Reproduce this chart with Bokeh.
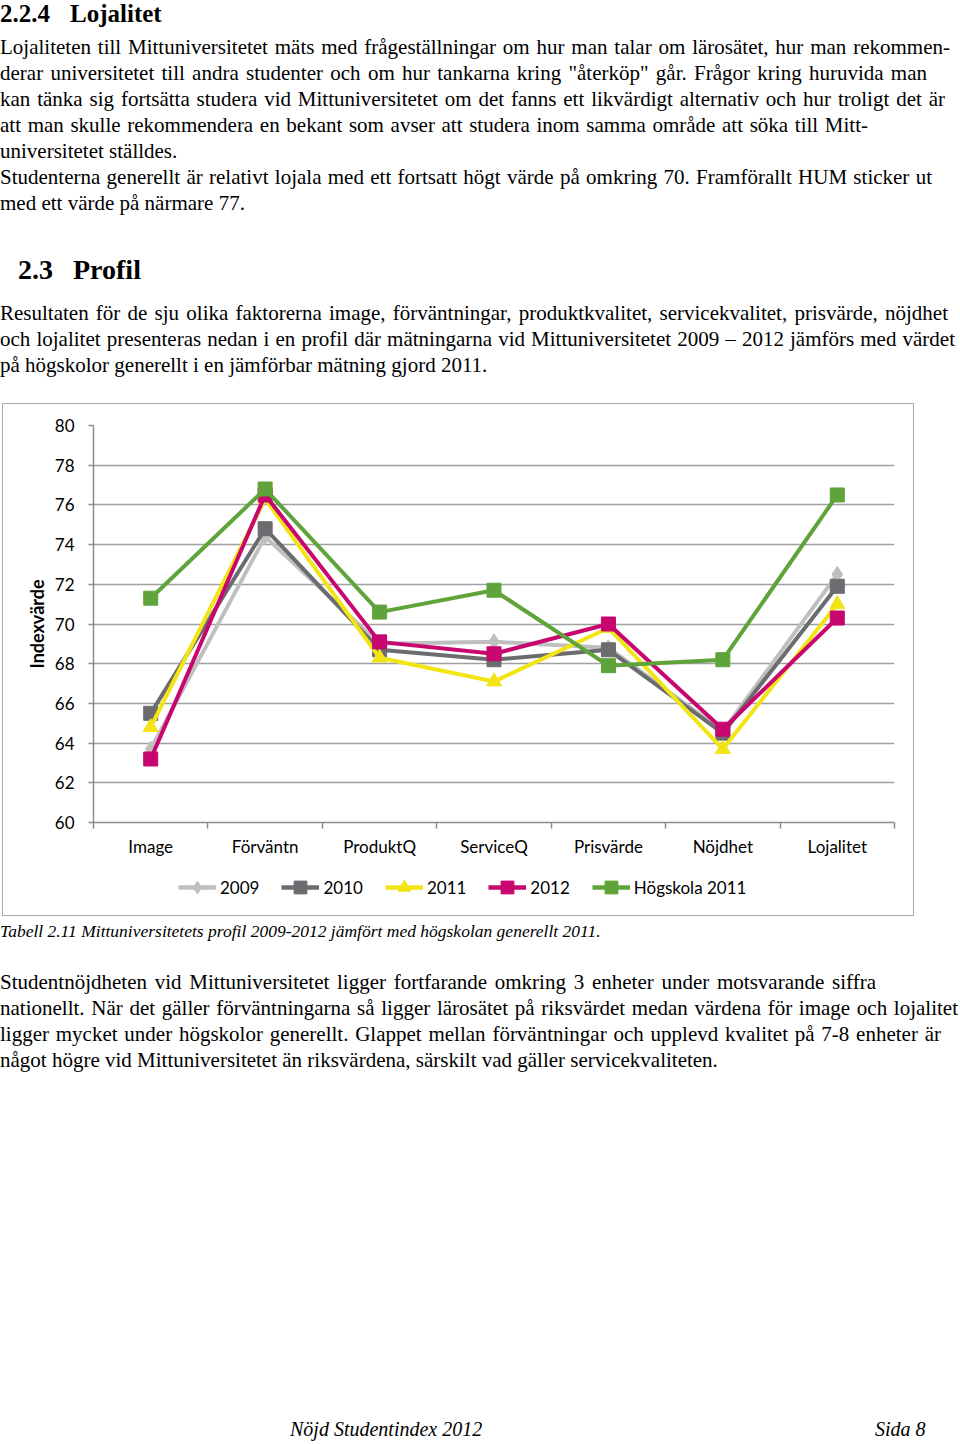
import html
from bokeh.plotting import figure
from bokeh.models import Range1d, FixedTicker, Legend, LegendItem, Div, Spacer
from bokeh.layouts import column, row
from bokeh.embed import file_html
from bokeh.resources import INLINE

# ---------------- data ----------------
categories = ["Image", "Förväntn", "ProduktQ", "ServiceQ", "Prisvärde", "Nöjdhet", "Lojalitet"]
y_ticks = [60, 62, 64, 66, 68, 70, 72, 74, 76, 78, 80]
series_names = ["2009", "2010", "2011", "2012", "Högskola 2011"]
v2009 = [63.7, 74.4, 69.0, 69.1, 68.8, 64.6, 72.5]
v2010 = [65.5, 74.8, 68.7, 68.2, 68.7, 64.5, 71.9]
v2011 = [64.8, 76.3, 68.3, 67.1, 69.8, 63.7, 71.0]
v2012 = [63.2, 76.5, 69.1, 68.5, 70.0, 64.7, 70.3]
v_hogskola = [71.3, 76.8, 70.6, 71.7, 67.9, 68.2, 76.5]

# ---------------- page text ----------------
para1 = [
    "Lojaliteten till Mittuniversitetet mäts med frågeställningar om hur man talar om lärosätet, hur man rekommen-",
    'derar universitetet till andra studenter och om hur tankarna kring "återköp" går. Frågor kring huruvida man',
    "kan tänka sig fortsätta studera vid Mittuniversitetet om det fanns ett likvärdigt alternativ och hur troligt det är",
    "att man skulle rekommendera en bekant som avser att studera inom samma område att söka till Mitt-",
    "universitetet ställdes.",
    "Studenterna generellt är relativt lojala med ett fortsatt högt värde på omkring 70. Framförallt HUM sticker ut",
    "med ett värde på närmare 77.",
]
para1_ends = [950, 927, 945, 868, None, 932, None]
para2 = [
    "Resultaten för de sju olika faktorerna image, förväntningar, produktkvalitet, servicekvalitet, prisvärde, nöjdhet",
    "och lojalitet presenteras nedan i en profil där mätningarna vid Mittuniversitetet 2009 – 2012 jämförs med värdet",
    "på högskolor generellt i en jämförbar mätning gjord 2011.",
]
para2_ends = [948, 955, None]
caption = "Tabell 2.11 Mittuniversitetets profil 2009-2012 jämfört med högskolan generellt 2011."
para3 = [
    "Studentnöjdheten vid Mittuniversitetet ligger fortfarande omkring 3 enheter under motsvarande siffra",
    "nationellt. När det gäller förväntningarna så ligger lärosätet på riksvärdet medan värdena för image och lojalitet",
    "ligger mycket under högskolor generellt. Glappet mellan förväntningar och upplevd kvalitet på 7-8 enheter är",
    "något högre vid Mittuniversitetet än riksvärdena, särskilt vad gäller servicekvaliteten.",
]
para3_ends = [876, 958, 941, None]
footer_left = "Nöjd Studentindex 2012"
footer_right = "Sida 8"

SERIF = "'Liberation Serif', 'Times New Roman', serif"
BODY = 21


def tline(text, left, top, right=None, size=BODY, style="normal", weight="normal", lh=26):
    if right is None:
        ta, w = "left", 960 - left
    else:
        ta, w = "justify", right - left
    return (f'<div style="position:absolute;left:{left}px;top:{top}px;width:{w}px;'
            f'height:{lh}px;line-height:{lh}px;font-size:{size}px;font-style:{style};'
            f'font-weight:{weight};text-align:{ta};text-align-last:{ta};white-space:nowrap;'
            f'color:#000;">{html.escape(text, quote=False)}</div>')


top_parts = []
top_parts.append(tline("2.2.4", 0, 1, None, size=25, weight="bold", lh=26))
top_parts.append(tline("Lojalitet", 70, 1, None, size=25, weight="bold", lh=26))
for i, (t, e) in enumerate(zip(para1, para1_ends)):
    top_parts.append(tline(t, 0, 34 + 26 * i, e))
top_parts.append(tline("2.3", 18, 254, None, size=28, weight="bold", lh=32))
top_parts.append(tline("Profil", 73, 254, None, size=28, weight="bold", lh=32))
for i, (t, e) in enumerate(zip(para2, para2_ends)):
    top_parts.append(tline(t, 0, 300 + 26 * i, e))
top_html = (f'<div style="position:relative;width:960px;height:403px;font-family:{SERIF};">'
            + "".join(top_parts) + "</div>")
top_div = Div(text=top_html, width=960, height=403, margin=0)

BOT0 = 916
bot_parts = []
bot_parts.append(tline(caption, 0, 921 - BOT0, None, size=17.5, style="italic", lh=20))
for i, (t, e) in enumerate(zip(para3, para3_ends)):
    bot_parts.append(tline(t, 0, 969 - BOT0 + 26 * i, e))
bot_parts.append(tline(footer_left, 290, 1416 - BOT0, None, size=20, style="italic"))
bot_parts.append(tline(footer_right, 875, 1416 - BOT0, None, size=20, style="italic"))
bot_html = (f'<div style="position:relative;width:960px;height:528px;font-family:{SERIF};">'
            + "".join(bot_parts) + "</div>")
bot_div = Div(text=bot_html, width=960, height=528, margin=0)

# ---------------- chart ----------------
n = len(categories)
x_pos = [i + 0.5 for i in range(n)]
boundaries = list(range(n + 1))

FONT = "Lato"
BORDER = "1.5px solid #a9a9a9"
p = figure(width=912, height=458, x_range=Range1d(0, n), y_range=Range1d(y_ticks[0], y_ticks[-1]),
           output_backend="svg", toolbar_location=None,
           min_border_left=90, min_border_right=21, min_border_top=21, min_border_bottom=40)
p.styles = {"border-top": BORDER, "border-left": BORDER, "border-right": BORDER,
            "box-sizing": "border-box"}
p.outline_line_color = None
p.background_fill_color = "white"
p.border_fill_color = "white"

p.xgrid.grid_line_color = None
p.ygrid.grid_line_color = "#a0a0a0"
p.ygrid.grid_line_width = 1.5

xa = p.xaxis[0]
xa.ticker = FixedTicker(ticks=x_pos, minor_ticks=boundaries)
xa.major_label_overrides = {x: c for x, c in zip(x_pos, categories)}
xa.major_tick_line_color = None
xa.major_tick_out = 0
xa.major_tick_in = 0
xa.minor_tick_out = 6
xa.minor_tick_in = 0
xa.minor_tick_line_color = "#8c8c8c"
xa.minor_tick_line_width = 1.5
xa.axis_line_color = "#8c8c8c"
xa.axis_line_width = 1.5
xa.major_label_standoff = 7
xa.major_label_text_font = FONT
xa.major_label_text_font_size = "17px"
xa.major_label_text_color = "#000"

ya = p.yaxis[0]
ya.ticker = FixedTicker(ticks=y_ticks)
ya.minor_tick_line_color = None
ya.major_tick_out = 5
ya.major_tick_in = 0
ya.major_tick_line_color = "#8c8c8c"
ya.major_tick_line_width = 1.5
ya.axis_line_color = "#8c8c8c"
ya.axis_line_width = 1.5
ya.major_label_standoff = 14
ya.major_label_text_font = FONT
ya.major_label_text_font_size = "17px"
ya.major_label_text_color = "#000"
ya.axis_label = "Indexvärde"
ya.axis_label_text_font = FONT
ya.axis_label_text_font_style = "bold"
ya.axis_label_text_font_size = "18px"
ya.axis_label_text_color = "#000"
ya.axis_label_standoff = 4

colors = ["#bfbfbf", "#6b6c70", "#f2e415", "#c8066f", "#5fa43a"]
markers = ["diamond", "square", "triangle", "square", "square"]
sizes = [16, 14, 15, 14, 14]
values = [v2009, v2010, v2011, v2012, v_hogskola]

for name, vals, col, mk, sz in zip(series_names, values, colors, markers, sizes):
    p.line(x_pos, vals, line_color=col, line_width=4, line_join="round")
    p.scatter(x_pos, vals, marker=mk, size=sz, fill_color=col, line_color=col)

# ---------------- legend strip (bottom of the chart box) ----------------
# same series drawn again, but the strip's y range (0..1) keeps them out of view;
# they only provide the legend swatches
lf = figure(width=912, height=55, x_range=Range1d(0, n), y_range=Range1d(0, 1),
            output_backend="svg", toolbar_location=None,
            x_axis_location=None, y_axis_location=None,
            min_border_left=0, min_border_right=0, min_border_top=0, min_border_bottom=0)
lf.styles = {"border-bottom": BORDER, "border-left": BORDER, "border-right": BORDER,
             "box-sizing": "border-box"}
lf.grid.visible = False
lf.outline_line_color = None
lf.background_fill_color = "white"
lf.border_fill_color = "white"

items = []
for name, vals, col, mk, sz in zip(series_names, values, colors, markers, sizes):
    lr = lf.line(x_pos, vals, line_color=col, line_width=4.5)
    sr = lf.scatter(x_pos, vals, marker=mk, size=sz, fill_color=col, line_color=col)
    items.append(LegendItem(label=name, renderers=[lr, sr]))

legend = Legend(items=items, location=(85, 13), orientation="horizontal",
                label_text_font=FONT, label_text_font_size="17px", label_text_color="#000",
                glyph_width=38, glyph_height=32, spacing=22, label_standoff=4,
                padding=0, margin=0, border_line_color=None, background_fill_alpha=0)
lf.add_layout(legend)

chart = column(p, lf, spacing=0)
layout = column(top_div, row(Spacer(width=2, height=513, margin=0), chart), bot_div)

open("out.html", "w").write(file_html(layout, INLINE))
